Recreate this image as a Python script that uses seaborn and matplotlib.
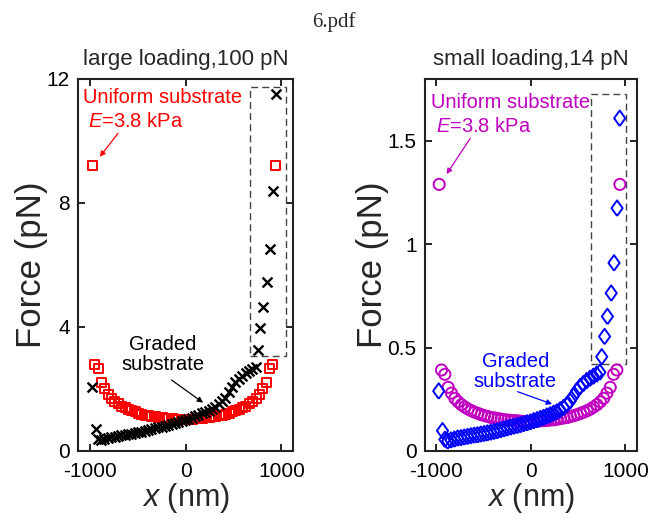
import matplotlib
matplotlib.use("Agg")
import matplotlib.pyplot as plt
from matplotlib.patches import Rectangle
from matplotlib.ticker import FuncFormatter
import seaborn as sns

# Uniform substrate (E = 3.8 kPa): positions along the cell (nm) and forces
x_uniform = [-970, -945, -910, -875, -840, -805, -770, -735, -700, -665, -630, -595,
             -560, -525, -490, -455, -420, -385, -350, -315, -280, -245, -210, -175,
             -140, -105, -70, -35, 0, 35, 70, 105, 140, 175, 210, 245, 280, 315, 350,
             385, 420, 455, 490, 525, 560, 595, 630, 665, 700, 735, 770, 805, 840,
             875, 910, 942]
f_uniform_large = [9.2, 2.8, 2.65, 2.2, 2.0, 1.82, 1.7, 1.6, 1.52, 1.45, 1.39, 1.34,
                   1.30, 1.26, 1.22, 1.19, 1.16, 1.14, 1.12, 1.10, 1.08, 1.07, 1.06,
                   1.05, 1.04, 1.03, 1.02, 1.02, 1.02, 1.02, 1.03, 1.04, 1.05, 1.06,
                   1.07, 1.08, 1.10, 1.12, 1.14, 1.16, 1.19, 1.22, 1.26, 1.30, 1.34,
                   1.39, 1.45, 1.52, 1.6, 1.7, 1.82, 2.0, 2.2, 2.65, 2.8, 9.2]
f_uniform_small = [1.29, 0.392, 0.371, 0.308, 0.280, 0.255, 0.238, 0.224, 0.213, 0.203,
                   0.195, 0.188, 0.182, 0.176, 0.171, 0.167, 0.162, 0.160, 0.157,
                   0.154, 0.151, 0.150, 0.148, 0.147, 0.146, 0.144, 0.143, 0.143,
                   0.143, 0.143, 0.144, 0.146, 0.147, 0.148, 0.150, 0.151, 0.154,
                   0.157, 0.160, 0.162, 0.167, 0.171, 0.176, 0.182, 0.188, 0.195,
                   0.203, 0.213, 0.224, 0.238, 0.255, 0.280, 0.308, 0.371, 0.392, 1.29]

# Graded substrate: positions (nm) and forces
x_graded = [-975, -935, -910, -880, -845, -810, -775, -740, -705, -670, -635, -600,
            -565, -530, -495, -460, -425, -390, -355, -320, -285, -250, -215, -180,
            -145, -110, -75, -40, -5, 30, 65, 100, 135, 170, 205, 240, 275, 310, 345,
            380, 415, 450, 485, 520, 555, 590, 625, 660, 695, 730, 750, 780, 810, 850,
            880, 912, 940]
f_graded_large = [2.07, 0.70, 0.40, 0.34, 0.38, 0.41, 0.44, 0.46, 0.48, 0.50, 0.52,
                  0.54, 0.56, 0.58, 0.60, 0.62, 0.64, 0.67, 0.70, 0.73, 0.76, 0.79,
                  0.82, 0.85, 0.88, 0.91, 0.94, 0.97, 1.00, 1.04, 1.08, 1.12, 1.16,
                  1.21, 1.25, 1.30, 1.35, 1.42, 1.50, 1.60, 1.72, 1.90, 2.08, 2.22,
                  2.33, 2.43, 2.51, 2.58, 2.65, 2.72, 3.26, 3.96, 4.65, 5.46, 6.5,
                  8.39, 11.5]
f_graded_small = [0.290, 0.098, 0.056, 0.048, 0.053, 0.057, 0.062, 0.064, 0.067, 0.070,
                  0.073, 0.076, 0.078, 0.081, 0.084, 0.087, 0.090, 0.094, 0.098,
                  0.102, 0.106, 0.111, 0.115, 0.119, 0.123, 0.127, 0.132, 0.136,
                  0.140, 0.146, 0.151, 0.157, 0.162, 0.169, 0.175, 0.182, 0.189,
                  0.199, 0.210, 0.224, 0.241, 0.266, 0.291, 0.311, 0.326, 0.340,
                  0.351, 0.361, 0.371, 0.381, 0.456, 0.554, 0.651, 0.764, 0.910,
                  1.175, 1.61]

x_ticks = [-1000, 0, 1000]
y_ticks_large = [0, 4, 8, 12]
y_ticks_small = [0, 0.5, 1, 1.5]

sns.set_style("ticks")
plt.rcParams["font.family"] = ["Liberation Sans", "DejaVu Sans"]
plt.rcParams["mathtext.fontset"] = "custom"
plt.rcParams["mathtext.rm"] = "Liberation Sans"
plt.rcParams["mathtext.it"] = "Liberation Sans:italic"
plt.rcParams["axes.unicode_minus"] = False

# slightly tall open diamond
tall_diamond = [(0, -1), (0.72, 0), (0, 1), (-0.72, 0), (0, -1)]

fig = plt.figure(figsize=(6.67, 5.2), dpi=100)
ax1 = fig.add_axes([0.117, 0.1327, 0.3223, 0.7154])
ax2 = fig.add_axes([0.6372, 0.1327, 0.3174, 0.7154])

fig.text(0.5, 0.957, "6.pdf", ha="center", va="center",
         family="Liberation Serif", fontsize=15)


def style_axes(ax, yticks, ylim, title):
    ax.set_xlim(-1120, 1120)
    ax.set_ylim(*ylim)
    ax.set_xticks(x_ticks)
    ax.set_yticks(yticks)
    ax.yaxis.set_major_formatter(FuncFormatter(lambda v, p: f"{v:g}"))
    ax.tick_params(direction="in", top=True, right=True, length=5, width=1.2,
                   labelsize=15, colors="black")
    ax.tick_params(axis="x", pad=8)
    ax.tick_params(axis="y", pad=6)
    for s in ax.spines.values():
        s.set_visible(True)
        s.set_linewidth(1.5)
        s.set_color("#222222")
    ax.set_xlabel("$x$ (nm)", fontsize=22, labelpad=0)
    ax.set_ylabel("Force (pN)", fontsize=25, labelpad=-1)
    ax.set_title(title, fontsize=16, pad=10)


# Left panel: large loading
sns.scatterplot(x=x_uniform, y=f_uniform_large, ax=ax1, marker="s", s=42,
                facecolors="none", edgecolor="#ff0000", linewidth=1.4, zorder=3)
sns.scatterplot(x=x_graded, y=f_graded_large, ax=ax1, marker="x", s=50,
                color="black", linewidth=1.7, zorder=3)
style_axes(ax1, y_ticks_large, (0, 12), "large loading,100 pN")

ax1.add_patch(Rectangle((670, 3.07), 375, 8.68, fill=False, ls=(0, (5, 3)),
                        lw=1.0, edgecolor="#444444", zorder=2))
ax1.text(-1070, 11.4, "Uniform substrate", color="#ff0000", fontsize=14.5,
         ha="left", va="center")
ax1.text(-1018, 10.62, "$E$=3.8 kPa", color="#ff0000", fontsize=14.5,
         ha="left", va="center")
ax1.annotate("", xy=(-893, 9.49), xytext=(-703, 10.25),
             arrowprops=dict(arrowstyle="-|>", color="#ff0000", lw=0.9,
                             mutation_scale=8, shrinkA=0, shrinkB=0))
ax1.text(-233, 3.12, "Graded\nsubstrate", color="black", fontsize=14.5,
         ha="center", va="center", linespacing=1.05)
ax1.annotate("", xy=(183, 1.56), xytext=(-146, 2.29),
             arrowprops=dict(arrowstyle="-|>", color="black", lw=0.9,
                             mutation_scale=8, shrinkA=0, shrinkB=0))

# Right panel: small loading
sns.scatterplot(x=x_uniform, y=f_uniform_small, ax=ax2, marker="o", s=64,
                facecolors="none", edgecolor="#c000c0", linewidth=1.4, zorder=3)
sns.scatterplot(x=x_graded, y=f_graded_small, ax=ax2, marker=tall_diamond, s=125,
                facecolors="none", edgecolor="#0000ff", linewidth=1.4, zorder=3)
style_axes(ax2, y_ticks_small, (0, 1.8), "small loading,14 pN")

ax2.add_patch(Rectangle((635, 0.421), 371, 1.305, fill=False, ls=(0, (5, 3)),
                        lw=1.0, edgecolor="#444444", zorder=2))
ax2.text(-1060, 1.684, "Uniform substrate", color="#c000c0", fontsize=14.5,
         ha="left", va="center")
ax2.text(-1007, 1.572, "$E$=3.8 kPa", color="#c000c0", fontsize=14.5,
         ha="left", va="center")
ax2.annotate("", xy=(-891, 1.34), xytext=(-641, 1.513),
             arrowprops=dict(arrowstyle="-|>", color="#c000c0", lw=0.9,
                             mutation_scale=8, shrinkA=0, shrinkB=0))
ax2.text(-164, 0.385, "Graded\nsubstrate", color="#0000ff", fontsize=14.5,
         ha="center", va="center", linespacing=1.05)
ax2.annotate("", xy=(225, 0.227), xytext=(-140, 0.287),
             arrowprops=dict(arrowstyle="-|>", color="#0000ff", lw=0.9,
                             mutation_scale=8, shrinkA=0, shrinkB=0))

fig.savefig("out.png", dpi=100)
